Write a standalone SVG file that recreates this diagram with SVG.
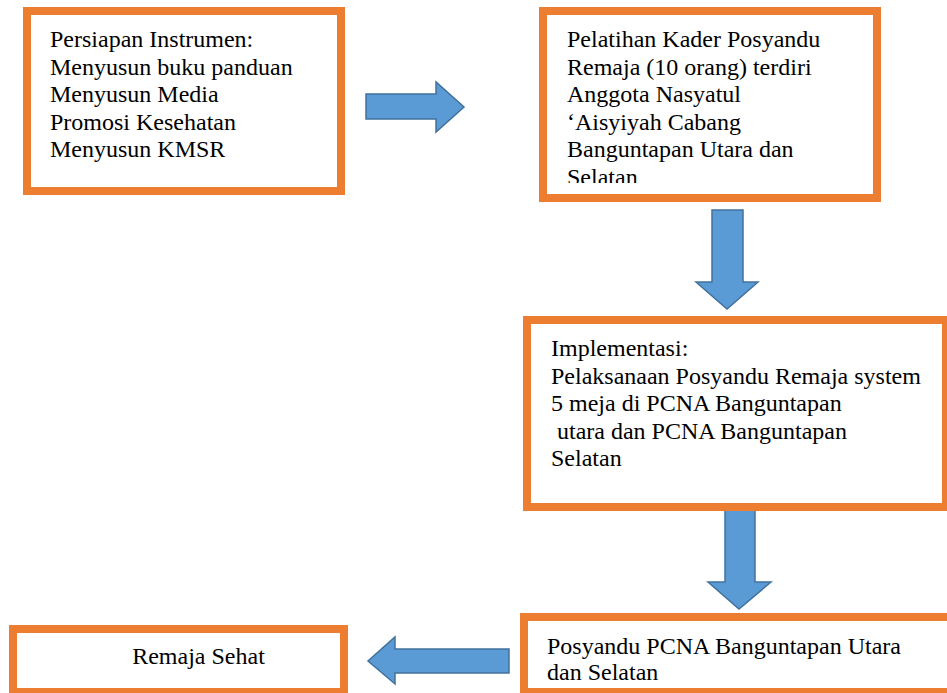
<svg xmlns="http://www.w3.org/2000/svg" width="947" height="693" viewBox="0 0 947 693">
<style>
.box{fill:#FFFFFF;stroke:#ED7D31;stroke-width:8}
.arrow{fill:#5B9BD5;stroke:#41719C;stroke-width:1.5;stroke-linejoin:miter}
.t{font-family:'Liberation Serif','Times New Roman',Times,serif;font-size:24px;fill:#000000}
</style>
<defs>
<clipPath id="clip2"><rect x="547" y="15" width="326" height="168"/></clipPath>
</defs>
<rect x="0" y="0" width="947" height="693" fill="#FFFFFF"/>
<g id="connectors">
<polygon class="arrow" points="366,94 436,94 436,82 464,107 436,132 436,119 366,119"/>
<polygon class="arrow" points="712,210 743,210 743,282 758,282 727,309 696,282 712,282"/>
<polygon class="arrow" points="725,508 755,508 755,582 771,582 739,609 708,582 725,582"/>
<polygon class="arrow" points="509,649 395,649 395,637 368,661 395,684 395,673 509,673"/>
</g>
<g id="node1" class="t" font-family="Liberation Serif, serif">
<rect class="box" x="27" y="11" width="314" height="180"/>
<text x="50" y="47">Persiapan Instrumen:</text>
<text x="50" y="74.5">Menyusun buku panduan</text>
<text x="50" y="102">Menyusun Media</text>
<text x="50" y="129.5">Promosi Kesehatan</text>
<text x="50" y="157">Menyusun KMSR</text>
</g>
<g id="node2" class="t" font-family="Liberation Serif, serif">
<rect class="box" x="543" y="11" width="334" height="187"/>
<g clip-path="url(#clip2)">
<text x="567" y="47">Pelatihan Kader Posyandu</text>
<text x="567" y="74.5">Remaja (10 orang) terdiri</text>
<text x="567" y="102">Anggota Nasyatul</text>
<text x="567" y="129.5">‘Aisyiyah Cabang</text>
<text x="567" y="157">Banguntapan Utara dan</text>
<text x="567" y="184.5">Selatan</text>
</g>
</g>
<g id="node3" class="t" font-family="Liberation Serif, serif">
<rect class="box" x="527" y="320" width="419" height="187"/>
<text x="551" y="356">Implementasi:</text>
<text x="551" y="383.5">Pelaksanaan Posyandu Remaja system</text>
<text x="551" y="411">5 meja di PCNA Banguntapan</text>
<text x="551" y="438.5" xml:space="preserve"> utara dan PCNA Banguntapan</text>
<text x="551" y="466">Selatan</text>
</g>
<g id="node4" class="t" font-family="Liberation Serif, serif">
<rect class="box" x="524" y="617" width="430" height="75"/>
<text x="547" y="654">Posyandu PCNA Banguntapan Utara</text>
<text x="547" y="680">dan Selatan</text>
</g>
<g id="node5" class="t" font-family="Liberation Serif, serif">
<rect class="box" x="13" y="629" width="331" height="63"/>
<text x="198.5" y="664" text-anchor="middle">Remaja Sehat</text>
</g>
</svg>
